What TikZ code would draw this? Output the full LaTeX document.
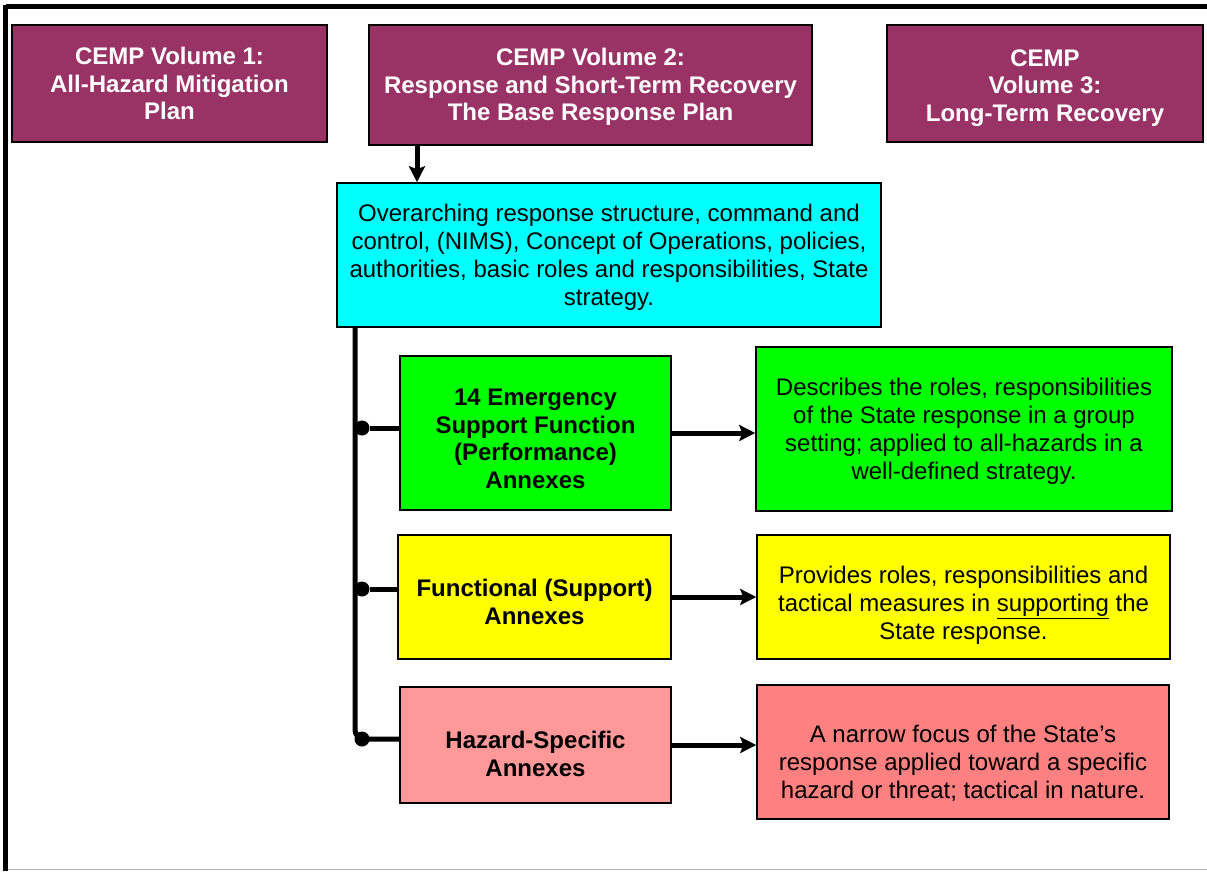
\documentclass[tikz,border=0pt]{standalone}
\usepackage{fontspec}
\setmainfont{Liberation Sans}
\usetikzlibrary{positioning}
\usetikzlibrary{arrows.meta,calc}
\definecolor{plum}{HTML}{993366}
\definecolor{aqua}{HTML}{00FFFF}
\definecolor{lime}{HTML}{00FF00}
\definecolor{lemon}{HTML}{FFFF00}
\definecolor{rose}{HTML}{FF9999}
\definecolor{salmon}{HTML}{FF8080}
\tikzstyle{volume}=[rectangle,draw=black,line width=1.5pt,fill=plum,text=white,font=\bfseries\fontsize{24}{27.5}\selectfont,align=center,inner sep=0pt]
\tikzstyle{annex}=[rectangle,draw=black,line width=1.5pt,font=\bfseries\fontsize{24}{27.5}\selectfont,align=center,inner sep=0pt]
\tikzstyle{desc}=[rectangle,draw=black,line width=1.5pt,font=\fontsize{24}{28}\selectfont,align=center,inner sep=0pt]
\tikzstyle{edge} = [draw,line width=5pt,-{Stealth[length=16pt,width=16pt,inset=3pt]}]
\tikzstyle{trunk} = [draw,line width=5pt]
\tikzstyle{junction}=[circle,fill=black,minimum size=15pt,inner sep=0pt]
% strut at the start of a box text, moves the text down by #1
\newcommand{\pushdown}[1]{\rule{0pt}{\dimexpr 17.2pt+#1*2\relax}}

\begin{document}
\begin{tikzpicture}[x=1pt,y=-1pt]

  \useasboundingbox (0,0) rectangle (1207,871);

  % frame
  \draw[line width=4.5pt] (1207,6.5) -- (5.8,6.5);
  \draw[line width=5pt] (5.8,4.5) -- (5.8,871);
  \draw[line width=1.5pt, black!30] (8,869.5) -- (1207,869.5);

  % the three volumes
  \foreach \x/\y/\w/\h/\name/\txt in {169.5/83.5/315/117/vol1/{CEMP Volume 1:\\All-Hazard Mitigation\\Plan},
                                     590.5/85/443/120/vol2/{\pushdown{2pt}CEMP Volume 2:\\Response and Short-Term Recovery\\The Base Response Plan},
                                     1045/83.5/316/117/vol3/{\pushdown{4pt}CEMP\\Volume 3:\\Long-Term Recovery}}
     \node[volume, minimum width=\w pt, minimum height=\h pt] (\name) at (\x,\y) {\txt};

  \node[desc, fill=aqua, minimum width=544pt, minimum height=144pt] (base) at (609,255)
       {\pushdown{2pt}Overarching response structure, command and\\control, (NIMS), Concept of Operations, policies,\\authorities, basic roles and responsibilities, State\\strategy.};

  % annexes
  \node[annex, fill=lime, minimum width=271pt, minimum height=154pt] (esf) at (535.5,433)
       {\pushdown{5.5pt}14 Emergency\\Support Function\\(Performance)\\Annexes};
  \node[annex, fill=lemon, minimum width=273pt, minimum height=124pt] (func) at (534.5,597)
       {\pushdown{5pt}Functional (Support)\\Annexes};
  \node[annex, fill=rose, minimum width=271pt, minimum height=116pt] (haz) at (535.5,745)
       {\pushdown{9pt}Hazard-Specific\\Annexes};

  \node[desc, fill=lime, minimum width=416pt, minimum height=164pt] (esfdesc) at (964,429)
       {\pushdown{2.5pt}Describes the roles, responsibilities\\of the State response in a group\\setting; applied to all-hazards in a\\well-defined strategy.};
  \node[desc, fill=lemon, minimum width=413pt, minimum height=124pt] (funcdesc) at (963.5,597)
       {\pushdown{8.5pt}Provides roles, responsibilities and\\tactical measures in \underline{supporting} the\\State response.};
  \node[desc, fill=salmon, minimum width=412pt, minimum height=134pt] (hazdesc) at (963,752)
       {\pushdown{11.5pt}A narrow focus of the State's\\response applied toward a specific\\hazard or threat; tactical in nature.};

  \coordinate (drop) at (417,0);
  \coordinate (spine) at (355,0);

  \draw[edge] (vol2.south -| drop) -- (base.north -| drop);

  % spine with the branches
  \draw[trunk, rounded corners=9pt] (base.south -| spine) |- ([yshift=6pt]haz.west);
  \node[junction] (j1) at ([yshift=5pt]esf.west -| 362,0) {};
  \node[junction] (j2) at ([yshift=8pt]func.west -| 362,0) {};
  \node[junction] (j3) at ([yshift=6pt]haz.west -| 362,0) {};
  \foreach \jn/\bx in {j1/esf, j2/func}
       \draw[trunk] (\jn) -- (\jn -| \bx.west);

  \foreach \source/ \dest in {esf/esfdesc, func/funcdesc, haz/hazdesc}
       \draw[edge] (\source.east) -- (\source.east -| \dest.west);

\end{tikzpicture}
\end{document}
